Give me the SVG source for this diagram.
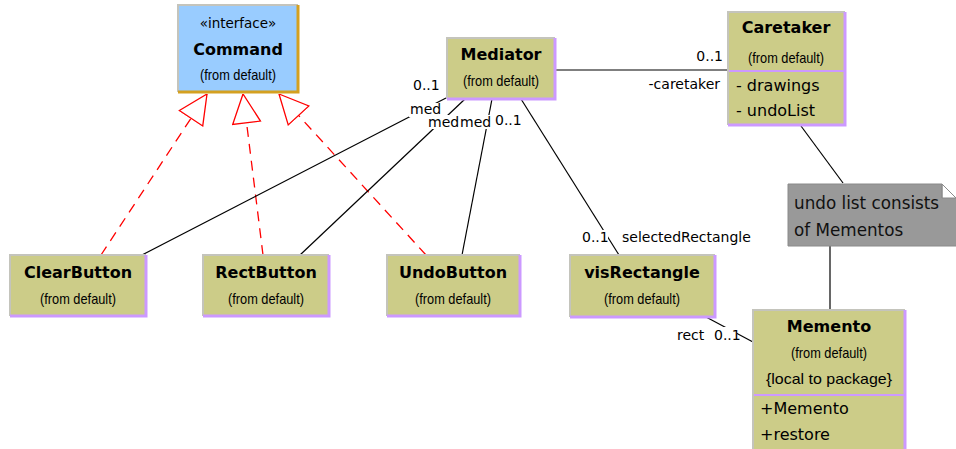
<svg xmlns="http://www.w3.org/2000/svg" width="956" height="449" viewBox="0 0 956 449">
  <style>
    .cls { fill: #cccc88; }
    .iface { fill: #99ccff; }
    .hi { fill: none; stroke: #c4c4bc; stroke-width: 2; }
    .lo { fill: none; stroke: #cc99ff; stroke-width: 3; }
    .lo-if { fill: none; stroke: #d4a020; stroke-width: 3; }
    .sep { stroke: #cc99ff; stroke-width: 2; }
    .title { font-family: "DejaVu Sans", sans-serif; font-weight: bold; font-size: 16px; fill: #000; text-anchor: middle; }
    .sub { font-family: "Liberation Sans", Arial, sans-serif; font-size: 15px; fill: #000; text-anchor: middle; }
    .stereo { font-family: "DejaVu Sans", sans-serif; font-size: 13.5px; fill: #000; text-anchor: middle; }
    .attr { font-family: "DejaVu Sans", sans-serif; font-size: 16px; fill: #000; }
    .lbl { font-family: "DejaVu Sans", sans-serif; font-size: 14px; fill: #000; }
    .lbg { fill: #fff; }
    .assoc { stroke: #000; stroke-width: 1.2; fill: none; }
    .real { stroke: #ff0000; stroke-width: 1.3; stroke-dasharray: 10 7; fill: none; marker-end: url(#tri); }
    .note { fill: #999999; stroke: #8a8a8a; stroke-width: 1; }
    .notetxt { font-family: "DejaVu Sans", sans-serif; font-size: 16.8px; fill: #111; }
  </style>
  <defs>
    <!-- hollow triangle for interface realization -->
    <marker id="tri" viewBox="0 0 30 30" refX="30" refY="15" markerWidth="30" markerHeight="30" markerUnits="userSpaceOnUse" orient="auto">
      <path d="M1,1 L30,15 L1,29 Z" fill="#fff" stroke="#ff0000" stroke-width="1.3" stroke-dasharray="none"/>
    </marker>
  </defs>

  <rect width="956" height="449" fill="#fff"/>

  <!-- connectors -->
  <g id="connectors">
    <!-- realizations of Command -->
    <line class="real" x1="101" y1="255" x2="207" y2="94"/>
    <line class="real" x1="263" y1="255" x2="243" y2="94"/>
    <line class="real" x1="426" y1="255" x2="279" y2="94"/>

    <!-- associations to Mediator -->
    <line class="assoc" x1="140" y1="256" x2="446" y2="98"/>
    <line class="assoc" x1="300" y1="255" x2="465" y2="99"/>
    <line class="assoc" x1="462" y1="255" x2="492" y2="99"/>
    <line class="assoc" x1="521" y1="99" x2="619" y2="255"/>
    <line class="assoc" x1="555" y1="70" x2="728" y2="70"/>

    <!-- note links and Memento reference -->
    <line class="assoc" x1="801" y1="126" x2="843" y2="183"/>
    <line class="assoc" x1="830" y1="246" x2="830" y2="310"/>
    <line class="assoc" x1="706" y1="317" x2="753" y2="342"/>

    <!-- end labels -->
    <rect class="lbg" x="411" y="79" width="28" height="13"/>
    <text class="lbl" x="413" y="90">0..1</text>
    <rect class="lbg" x="409" y="103" width="33" height="14"/>
    <text class="lbl" x="410" y="114">med</text>
    <rect class="lbg" x="426" y="115" width="33" height="14"/>
    <text class="lbl" x="428" y="127">med</text>
    <rect class="lbg" x="459" y="115" width="33" height="14"/>
    <text class="lbl" x="460" y="127">med</text>
    <rect class="lbg" x="494" y="114" width="28" height="14"/>
    <text class="lbl" x="495" y="125">0..1</text>

    <text class="lbl" x="723" y="61" text-anchor="end">0..1</text>
    <text class="lbl" x="720" y="89" text-anchor="end">-caretaker</text>

    <rect class="lbg" x="581" y="230" width="27" height="14"/>
    <text class="lbl" x="582" y="242">0..1</text>
    <rect class="lbg" x="620" y="228" width="134" height="16"/>
    <text class="lbl" x="622" y="242">selectedRectangle</text>

    <rect class="lbg" x="675" y="327" width="62" height="15"/>
    <text class="lbl" x="677" y="340">rect</text>
    <text class="lbl" x="714" y="340">0..1</text>
  </g>

  <!-- Command interface -->
  <g id="command">
    <rect class="iface" x="178" y="5" width="120" height="87"/>
    <polyline class="hi" points="178,92 178,5 298,5"/>
    <polyline class="lo-if" points="298,5 298,92 178,92"/>
    <text class="stereo" x="238" y="28">«interface»</text>
    <text class="title" x="238" y="55">Command</text>
    <text class="sub" x="238" y="80" textLength="76" lengthAdjust="spacingAndGlyphs">(from default)</text>
  </g>

  <!-- Mediator -->
  <g id="mediator">
    <rect class="cls" x="447" y="38" width="108" height="61"/>
    <polyline class="hi" points="447,99 447,38 555,38"/>
    <polyline class="lo" points="555,38 555,99 447,99"/>
    <text class="title" x="501" y="60">Mediator</text>
    <text class="sub" x="501" y="86" textLength="76" lengthAdjust="spacingAndGlyphs">(from default)</text>
  </g>

  <!-- Caretaker -->
  <g id="caretaker">
    <rect class="cls" x="728" y="12" width="117" height="113"/>
    <polyline class="hi" points="728,125 728,12 845,12"/>
    <polyline class="lo" points="845,12 845,125 728,125"/>
    <line class="sep" x1="729" y1="71" x2="844" y2="71"/>
    <text class="title" x="786" y="33">Caretaker</text>
    <text class="sub" x="786" y="63" textLength="76" lengthAdjust="spacingAndGlyphs">(from default)</text>
    <text class="attr" x="736" y="91">- drawings</text>
    <text class="attr" x="736" y="116">- undoList</text>
  </g>

  <!-- note -->
  <g id="note">
    <path class="note" d="M788,184 L942,184 L942,198 L957,198 L957,246 L788,246 Z"/>
    <path d="M942,184 L942,198 M942,184 L957,199" stroke="#8a8a8a" stroke-width="1" fill="none"/>
    <text class="notetxt" x="794" y="209">undo list consists</text>
    <text class="notetxt" x="794" y="236">of Mementos</text>
  </g>

  <!-- ClearButton -->
  <g id="clearButton">
    <rect class="cls" x="10" y="255" width="136" height="61"/>
    <polyline class="hi" points="10,316 10,255 146,255"/>
    <polyline class="lo" points="146,255 146,316 10,316"/>
    <text class="title" x="78" y="278">ClearButton</text>
    <text class="sub" x="78" y="304" textLength="76" lengthAdjust="spacingAndGlyphs">(from default)</text>
  </g>

  <!-- RectButton -->
  <g id="rectButton">
    <rect class="cls" x="203" y="255" width="126" height="61"/>
    <polyline class="hi" points="203,316 203,255 329,255"/>
    <polyline class="lo" points="329,255 329,316 203,316"/>
    <text class="title" x="266" y="278">RectButton</text>
    <text class="sub" x="266" y="304" textLength="76" lengthAdjust="spacingAndGlyphs">(from default)</text>
  </g>

  <!-- UndoButton -->
  <g id="undoButton">
    <rect class="cls" x="387" y="255" width="133" height="61"/>
    <polyline class="hi" points="387,316 387,255 520,255"/>
    <polyline class="lo" points="520,255 520,316 387,316"/>
    <text class="title" x="453" y="278">UndoButton</text>
    <text class="sub" x="453" y="304" textLength="76" lengthAdjust="spacingAndGlyphs">(from default)</text>
  </g>

  <!-- visRectangle -->
  <g id="visRectangle">
    <rect class="cls" x="570" y="255" width="145" height="62"/>
    <polyline class="hi" points="570,317 570,255 715,255"/>
    <polyline class="lo" points="715,255 715,317 570,317"/>
    <text class="title" x="642" y="278">visRectangle</text>
    <text class="sub" x="642" y="304" textLength="76" lengthAdjust="spacingAndGlyphs">(from default)</text>
  </g>

  <!-- Memento -->
  <g id="memento">
    <rect class="cls" x="753" y="310" width="152" height="150"/>
    <polyline class="hi" points="753,460 753,310 905,310"/>
    <polyline class="lo" points="905,310 905,460"/>
    <line class="sep" x1="754" y1="395" x2="904" y2="395"/>
    <text class="title" x="829" y="332">Memento</text>
    <text class="sub" x="829" y="358" textLength="76" lengthAdjust="spacingAndGlyphs">(from default)</text>
    <text class="sub" x="829" y="384" textLength="126" lengthAdjust="spacingAndGlyphs">{local to package}</text>
    <text class="attr" x="760" y="414">+Memento</text>
    <text class="attr" x="760" y="440">+restore</text>
  </g>
</svg>
